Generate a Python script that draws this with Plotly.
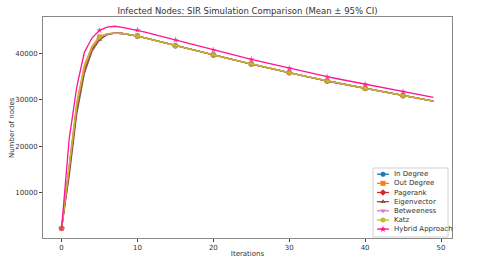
import plotly.graph_objects as go

iterations = list(range(50))

# shared tail (iterations 7..49) of the six centrality-based series
main_tail = [44450, 44380, 44130, 43830, 43410, 43000, 42580, 42150, 41730,
             41320, 40920, 40520, 40120, 39720, 39330, 38940, 38550, 38160,
             37770, 37390, 37010, 36640, 36260, 35890, 35530, 35170, 34810,
             34450, 34090, 33770, 33450, 33140, 32820, 32510, 32190, 31870,
             31550, 31230, 30910, 30620, 30330, 30040, 29760]

in_degree_head = [2200, 14800, 28400, 36800, 41200, 43500, 44250]
out_degree_head = [2200, 15800, 29400, 37500, 41600, 43700, 44350]
pagerank_head = [2200, 14300, 27800, 36300, 40900, 43350, 44200]
eigenvector_head = [2200, 13500, 27000, 35700, 40500, 43000, 44100]
betweeness_head = [2200, 15200, 28800, 37000, 41300, 43550, 44280]
katz_head = [2200, 15500, 29000, 37200, 41400, 43600, 44300]

hybrid = [2200, 21500, 32800, 40300, 43400, 45050, 45750, 45950, 45700, 45420,
          45130, 44700, 44260, 43830, 43400, 42970, 42530, 42100, 41660, 41230,
          40800, 40400, 39990, 39590, 39190, 38790, 38400, 38010, 37620, 37230,
          36840, 36480, 36110, 35750, 35380, 35020, 34690, 34360, 34030, 33710,
          33380, 33060, 32740, 32410, 32090, 31770, 31470, 31170, 30860, 30560]

series_names = ["In Degree", "Out Degree", "Pagerank", "Eigenvector",
                "Betweeness", "Katz", "Hybrid Approach"]
series_values = [in_degree_head + main_tail, out_degree_head + main_tail,
                 pagerank_head + main_tail, eigenvector_head + main_tail,
                 betweeness_head + main_tail, katz_head + main_tail, hybrid]
colors = ["#1f77b4", "#ff7f0e", "#d62728", "#8c564b", "#e377c2", "#bcbd22", "#ff1493"]
symbols = ["circle", "square", "diamond", "triangle-up", "triangle-down", "circle", "star"]

x_ticks = [0, 10, 20, 30, 40, 50]
y_ticks = [10000, 20000, 30000, 40000]
y_tick_labels = ["10000", "20000", "30000", "40000"]

fig = go.Figure()
for name, vals, c, s in zip(series_names, series_values, colors, symbols):
    sizes = [5 if i % 5 == 0 else 0 for i in iterations]
    fig.add_trace(go.Scatter(
        x=iterations, y=vals, name=name, mode="lines+markers",
        line=dict(color=c, width=1.3),
        marker=dict(symbol=s, size=sizes, color=c, line=dict(width=0)),
        showlegend=False,
    ))

# custom compact legend (pixel coordinates on an overlay axis pair)
leg_left, leg_right, leg_top, leg_bottom = 373, 448, 168, 237
row0, row_step = 174.2, 9.15
fig.add_shape(type="rect", xref="x2", yref="y2", x0=leg_left, x1=leg_right,
              y0=leg_top, y1=leg_bottom, line=dict(color="#d0d0d0", width=1),
              fillcolor="white", layer="below")
for k, (name, c, s) in enumerate(zip(series_names, colors, symbols)):
    ry = row0 + k * row_step
    fig.add_trace(go.Scatter(
        x=[377, 389], y=[ry, ry], xaxis="x2", yaxis="y2", mode="lines",
        line=dict(color=c, width=1.3), showlegend=False, hoverinfo="skip"))
    fig.add_trace(go.Scatter(
        x=[383], y=[ry], xaxis="x2", yaxis="y2", mode="markers",
        marker=dict(symbol=s, size=5, color=c), showlegend=False, hoverinfo="skip"))
    fig.add_annotation(x=392, y=ry, xref="x2", yref="y2", text=name,
                       showarrow=False, xanchor="left", yanchor="middle",
                       font=dict(size=7, color="#333"))

# y-axis title as a rotated annotation (paper coords)
fig.add_annotation(x=-0.0758, y=0.502, xref="paper", yref="paper", text="Number of nodes",
                   textangle=-90, showarrow=False, xanchor="center", yanchor="middle",
                   font=dict(size=7, color="#333"))

fig.update_layout(
    width=480, height=258,
    margin=dict(l=43, r=28, t=17, b=20, autoexpand=False),
    paper_bgcolor="white", plot_bgcolor="white",
    font=dict(family="DejaVu Sans", size=7, color="#333"),
    title=dict(text="Infected Nodes: SIR Simulation Comparison (Mean ± 95% CI)",
               x=0.5156, xanchor="center", y=0.959, yanchor="middle",
               font=dict(size=8.5, color="#333")),
    showlegend=False,
    xaxis2=dict(overlaying="x", range=[43, 452], visible=False, fixedrange=True,
                automargin=False),
    yaxis2=dict(overlaying="y", range=[238, 17], visible=False, fixedrange=True,
                automargin=False),
    xaxis=dict(range=[-2.45, 51.45], tickvals=x_ticks, ticks="outside", ticklen=3,
               showgrid=False, zeroline=False, showline=True, linecolor="#888",
               linewidth=1, mirror=True, automargin=False,
               title=dict(text="Iterations", font=dict(size=7), standoff=2)),
    yaxis=dict(range=[110, 47950], tickvals=y_ticks, ticktext=y_tick_labels,
               ticks="outside", ticklen=3, automargin=False,
               showgrid=False, zeroline=False, showline=True, linecolor="#888",
               linewidth=1, mirror=True),
)

fig.write_html("out.html", config={"displayModeBar": False},
               post_script="document.body.style.margin='0';document.body.style.padding='0';"
                           "document.body.style.overflow='hidden';")
